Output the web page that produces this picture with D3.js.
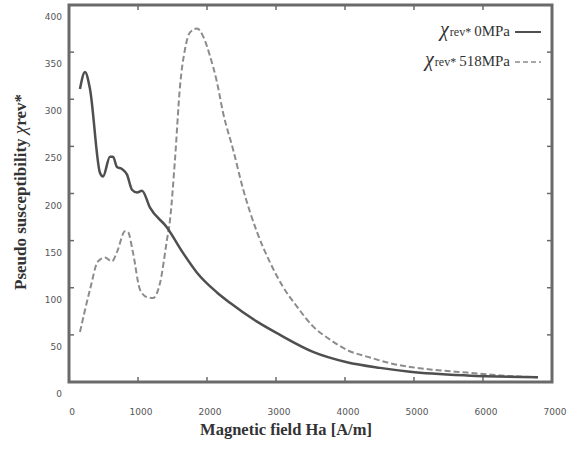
<!DOCTYPE html>
<html><head><meta charset="utf-8">
<script src="https://cdn.jsdelivr.net/npm/d3@7/dist/d3.min.js"></script>
<style>body{margin:0;background:#fff}svg{display:block}</style>
</head><body><svg id="c" width="576" height="452"></svg>
<script>
// Data
const field0 = [159,232,304,449,493,594,638,696,768,841,913,986,1058,1174,1420,1652,1855,2145,2333,2725,3058,3536,4029,4507,4942,5768,6797];
const chi0   = [311,329,311,222,218,239,239,228,226,220,204,201,203,185,164,137,116,95,84,64,50,32,21,15,11,7,5];
const field518 = [159,304,420,522,623,696,812,855,928,1029,1130,1217,1319,1420,1464,1536,1609,1681,1754,1855,1942,2043,2145,2232,2377,2522,2725,2913,3101,3304,3536,3783,4029,4362,4652,4942,5275,5768,6246,6797];
const chi518   = [53,98,128,132,128,138,160,159,137,98,90,89,105,151,172,236,314,353,371,375,367,346,318,286,247,205,159,127,101,80,59,45,34,26,20,16,13,10,7,5];
const xTicks = [0,1000,2000,3000,4000,5000,6000,7000];
const yTicks = [0,50,100,150,200,250,300,350,400];
const legendLabels = ["0MPa","518MPa"];

const svg = d3.select("#c");
const L=69, R=552, T=5, B=382;
const x = d3.scaleLinear().domain([0,7000]).range([L,R]);
const y = d3.scaleLinear().domain([0,400]).range([B,T]);
const axisCol = "#6a6a6a";

// ticks (inward on all sides)
const g = svg.append("g");
g.selectAll(".xb").data(xTicks.slice(1,-1)).join("line")
  .attr("x1",d=>x(d)).attr("x2",d=>x(d)).attr("y1",B).attr("y2",B-5)
  .attr("stroke",axisCol).attr("stroke-width",1.5);
g.selectAll(".xt").data(xTicks.slice(1,-1)).join("line")
  .attr("x1",d=>x(d)).attr("x2",d=>x(d)).attr("y1",T).attr("y2",T+5)
  .attr("stroke",axisCol).attr("stroke-width",1.5);
g.selectAll(".yl").data(yTicks.slice(1,-1)).join("line")
  .attr("x1",L).attr("x2",L+5).attr("y1",d=>y(d)).attr("y2",d=>y(d))
  .attr("stroke",axisCol).attr("stroke-width",1.5);
g.selectAll(".yr").data(yTicks.slice(1,-1)).join("line")
  .attr("x1",R).attr("x2",R-5).attr("y1",d=>y(d)).attr("y2",d=>y(d))
  .attr("stroke",axisCol).attr("stroke-width",1.5);

// tick labels
svg.selectAll(".xl").data(xTicks).join("text")
  .attr("x",d=>x(d)+3).attr("y",B+33).attr("text-anchor","middle")
  .attr("font-family","DejaVu Sans").attr("font-size",9).attr("fill","#555")
  .text(d=>d);
svg.selectAll(".ylab").data(yTicks).join("text")
  .attr("x",62).attr("y",d=>y(d)+15).attr("text-anchor","end")
  .attr("font-family","DejaVu Sans").attr("font-size",9).attr("fill","#555")
  .text(d=>d);

// lines
const line = d3.line().curve(d3.curveMonotoneX).x(d=>x(d[0])).y(d=>y(d[1]));
svg.append("path").datum(field518.map((f,i)=>[f,chi518[i]]))
  .attr("d",line).attr("fill","none").attr("stroke","#8c8c8c")
  .attr("stroke-width",2).attr("stroke-dasharray","6,3");
svg.append("path").datum(field0.map((f,i)=>[f,chi0[i]]))
  .attr("d",line).attr("fill","none").attr("stroke","#4f4f4f")
  .attr("stroke-width",2.5);

// frame
svg.append("rect").attr("x",L).attr("y",T).attr("width",R-L).attr("height",B-T)
  .attr("fill","none").attr("stroke",axisCol).attr("stroke-width",3);

// legend
const leg = [{y:36, dash:null, col:"#4f4f4f", w:2, lbl:legendLabels[0]},
             {y:66, dash:"5,3", col:"#8c8c8c", w:1.5, lbl:legendLabels[1]}];
leg.forEach(l=>{
  const t = svg.append("text").attr("x",510).attr("y",l.y).attr("text-anchor","end")
    .attr("font-family","Liberation Serif").attr("font-size",15).attr("fill","#333");
  t.append("tspan").attr("font-style","italic").attr("font-size",20).text("χ");
  t.append("tspan").attr("font-size",12).attr("dx",1).text("rev*");
  t.append("tspan").attr("dx",3).text(l.lbl);
  svg.append("line").attr("x1",515).attr("x2",541).attr("y1",l.y-4).attr("y2",l.y-4)
    .attr("stroke",l.col).attr("stroke-width",l.w).attr("stroke-dasharray",l.dash);
});

// axis titles
svg.append("text").attr("x",286).attr("y",435).attr("text-anchor","middle")
  .attr("font-family","Liberation Serif").attr("font-weight","bold").attr("font-size",16.5)
  .attr("fill","#333").text("Magnetic field Ha [A/m]");
const yt = svg.append("text").attr("transform","translate(26,192) rotate(-90)")
  .attr("text-anchor","middle").attr("font-family","Liberation Serif")
  .attr("font-weight","bold").attr("font-size",17).attr("fill","#333");
yt.append("tspan").text("Pseudo susceptibility ");
yt.append("tspan").attr("font-style","italic").attr("font-weight","normal").attr("font-size",19).text("χ");
yt.append("tspan").text("rev*");
</script></body></html>
